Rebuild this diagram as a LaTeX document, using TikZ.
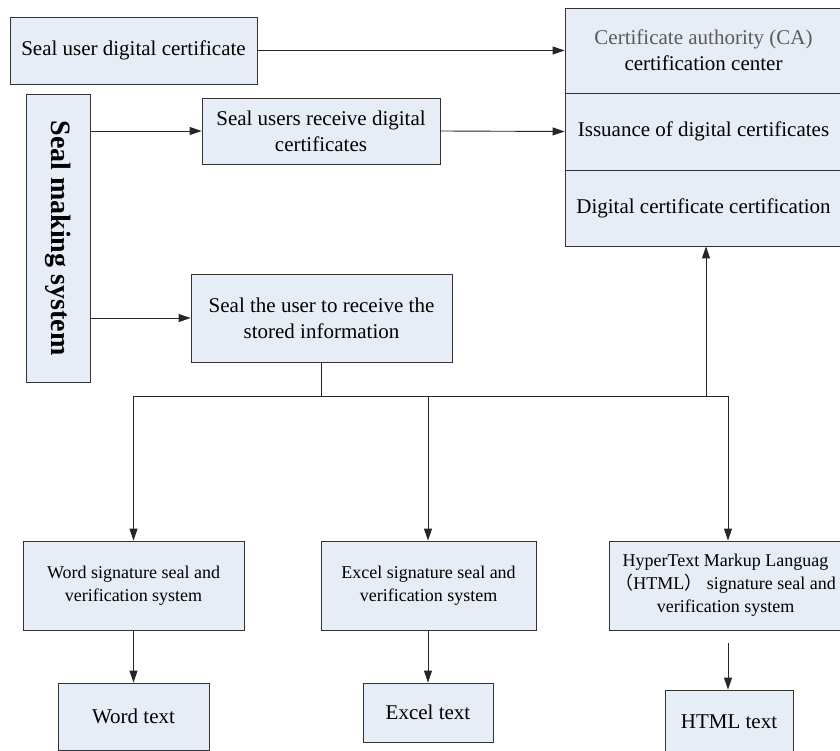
\documentclass[tikz,border=0pt]{standalone}
\usepackage{fontspec}
\usepackage{graphicx}
\setmainfont{Liberation Serif}
\newfontfamily\cjk{Noto Sans CJK SC}
\usetikzlibrary{arrows.meta,calc}
\definecolor{boxfill}{HTML}{E6EDF7}
\definecolor{boxline}{HTML}{333333}
\definecolor{titlegrey}{HTML}{5A5A5A}
\begin{document}
\begin{tikzpicture}[x=1pt,y=-1pt,
  box/.style={draw=boxline,line width=0.9pt,fill=boxfill,inner sep=0pt,align=center,
    font=\fontsize{21}{26}\selectfont},
  smallbox/.style={box,font=\fontsize{18}{23}\selectfont},
  conn/.style={draw=black!85,line width=0.9pt},
  arr/.style={conn,-{Triangle[length=12pt,width=8pt]}}]
\useasboundingbox[fill=white] (0,0) rectangle (840,751);
% top-left
\node[box,minimum width=247pt,minimum height=67pt] (cert) at (133.5,50.5) {Seal user digital certificate};
\node[box,minimum width=64pt,minimum height=288pt] (sms) at (58,238)
  {\rotatebox{-90}{\fontsize{28}{32}\selectfont\bfseries Seal making system}};
\node[box,minimum width=238pt,minimum height=66pt] (recv) at (321,131) {Seal users receive digital\\certificates};
\node[box,minimum width=261pt,minimum height=88pt] (store) at (321.5,318) {Seal the user to receive the\\stored information};
% CA
\node[box,minimum width=277pt,minimum height=85pt] (ca1) at (703.5,50.5) {\textcolor{titlegrey}{Certificate authority (CA)}\\certification center};
\node[box,minimum width=277pt,minimum height=77pt] (ca2) at (703.5,131.5) {Issuance of digital certificates};
\node[box,minimum width=277pt,minimum height=76pt,text depth=0pt] (ca3) at (703.5,208) {\raisebox{4pt}{Digital certificate certification}};
% bottom boxes
\node[smallbox,minimum width=221pt,minimum height=89pt] (word) at (133.5,585.5) {Word signature seal and\\verification system};
\node[smallbox,minimum width=215pt,minimum height=89pt] (excel) at (428.5,585.5) {Excel signature seal and\\verification system};
\node[smallbox,minimum width=233pt,minimum height=89pt] (html) at (725.5,585.5) {HyperText Markup Languag\\{\cjk （}HTML{\cjk ）} signature seal and\\verification system};
\node[box,minimum width=151pt,minimum height=67pt] (wtext) at (133.5,716.5) {Word text};
\node[box,minimum width=130pt,minimum height=59pt] (etext) at (428,712.5) {Excel text};
\node[box,minimum width=128pt,minimum height=70pt] (htext) at (729,725) {\raisebox{6pt}{HTML text}};
% bus coordinates
\coordinate (bs) at (321.5,396);
\coordinate (b1) at (133.5,396);
\coordinate (b2) at (428,396);
\coordinate (b3) at (728,396);
\coordinate (bu) at (706,396);
\coordinate (hs) at (728,643);
% connectors
\draw[arr] (cert.east) -- (cert.east -| ca1.west);
\draw[arr] (recv.east) -- (ca2.west);
\draw[arr] (sms.east |- recv.west) -- (recv.west);
\draw[arr] (sms.east |- store.west) -- (store.west);
\draw[conn] (store.south) -- (bs);
\draw[conn] (b1) -- (b3);
\draw[arr] (b1) -- (word.north);
\draw[arr] (b2) -- (b2 |- excel.north);
\draw[arr] (b3) -- (b3 |- html.north);
\draw[arr] (bu) -- (bu |- ca3.south);
\draw[arr] (word.south) -- (wtext.north);
\draw[arr] (excel.south -| b2) -- (b2 |- etext.north);
\draw[arr] (hs) -- (hs |- htext.north);
\end{tikzpicture}
\end{document}
